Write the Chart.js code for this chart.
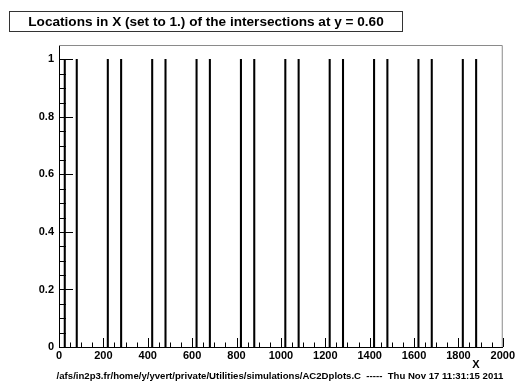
<!DOCTYPE html>
<html>
<head>
<meta charset="utf-8">
<script src="https://cdn.jsdelivr.net/npm/chart.js@4"></script>
<style>
  html, body { margin: 0; padding: 0; background: #fff; }
  #wrap { width: 517px; height: 383px; }
</style>
</head>
<body>
<div id="wrap"><canvas id="intersectChart" width="517" height="383"></canvas></div>
<script>
// intersection locations along X, histogram content (set to 1.)
const positions = [26, 80, 220, 280, 420, 480, 620, 680, 820, 880,
                   1020, 1080, 1220, 1280, 1420, 1480, 1620, 1680, 1820, 1880];
const counts = [1, 1, 1, 1, 1, 1, 1, 1, 1, 1,
                1, 1, 1, 1, 1, 1, 1, 1, 1, 1];
const xTicks = [0, 200, 400, 600, 800, 1000, 1200, 1400, 1600, 1800, 2000];
const yTicks = [0, 0.2, 0.4, 0.6, 0.8, 1];

const titleText = "Locations in X (set to 1.) of the intersections at y = 0.60";
const xTitle = "X";
const footerText = "/afs/in2p3.fr/home/y/yvert/private/Utilities/simulations/AC2Dplots.C  -----  Thu Nov 17 11:31:15 2011";

const FONT = "'Liberation Sans', Arial, Helvetica, sans-serif";

// ROOT style decorations: inner ticks, frame, title box, footer
const rootStyle = {
  id: "rootStyle",
  afterDraw(chart) {
    const ctx = chart.ctx;
    const a = chart.chartArea;
    const xs = chart.scales.x;
    const ys = chart.scales.y;
    ctx.save();

    // frame top / right
    ctx.strokeStyle = "#8a8a8a";
    ctx.lineWidth = 1;
    ctx.beginPath();
    ctx.moveTo(a.left, a.top + 0.5);
    ctx.lineTo(a.right - 0.5, a.top + 0.5);
    ctx.lineTo(a.right - 0.5, a.bottom);
    ctx.stroke();

    // x ticks (major every 200, minor every 50)
    ctx.strokeStyle = "#000";
    ctx.beginPath();
    for (let v = 0; v <= 2000; v += 50) {
      const px = Math.round(xs.getPixelForValue(v)) + 0.5;
      const len = v % 200 === 0 ? 9 : 4.5;
      ctx.moveTo(px, a.bottom);
      ctx.lineTo(px, a.bottom - len);
    }
    // y ticks (major every 0.2, minor every 0.05)
    for (let i = 0; i <= 20; i++) {
      const v = i * 0.05;
      const py = Math.round(ys.getPixelForValue(v)) + 0.5;
      const len = i % 4 === 0 ? 14 : 7;
      ctx.moveTo(a.left, py);
      ctx.lineTo(a.left + len, py);
    }
    ctx.stroke();

    // title box
    ctx.fillStyle = "#fff";
    ctx.fillRect(9.5, 11.5, 393, 20);
    ctx.strokeStyle = "#333";
    ctx.strokeRect(9.5, 11.5, 393, 20);
    ctx.fillStyle = "#000";
    ctx.font = "bold 13.6px " + FONT;
    ctx.textAlign = "center";
    ctx.textBaseline = "middle";
    ctx.fillText(titleText, 206, 22);

    // x axis title
    ctx.font = "bold 11px " + FONT;
    ctx.textAlign = "center";
    ctx.fillText(xTitle, 476, 365);

    // footer
    ctx.font = "bold 9.6px " + FONT;
    ctx.fillText(footerText, 280, 376);
    ctx.restore();
  },
};

const el = document.getElementById("intersectChart");
new Chart(el, {
  type: "bar",
  data: {
    datasets: [
      {
        label: "intersections",
        data: positions.map((x, i) => ({ x: x, y: counts[i] })),
        backgroundColor: "#000",
        borderWidth: 0,
        barThickness: 1.4,
      },
    ],
  },
  options: {
    responsive: false,
    animation: false,
    devicePixelRatio: 1,
    layout: { padding: { left: 0, right: 10, top: 45, bottom: 0 } },
    plugins: {
      legend: { display: false },
      tooltip: { enabled: false },
      title: { display: false },
    },
    scales: {
      x: {
        type: "linear",
        min: 0,
        max: 2000,
        offset: false,
        afterFit: (s) => { s.height = 36; },
        afterBuildTicks: (s) => { s.ticks = xTicks.map((v) => ({ value: v })); },
        grid: { display: false, drawTicks: false },
        border: { display: true, color: "#000", width: 1 },
        ticks: {
          padding: 2,
          maxRotation: 0,
          autoSkip: false,
          color: "#000",
          font: { family: FONT, size: 11, weight: "bold" },
          callback: (v) => String(v),
        },
      },
      y: {
        type: "linear",
        min: 0,
        max: 1.05,
        afterFit: (s) => { s.width = 59; },
        afterBuildTicks: (s) => { s.ticks = yTicks.map((v) => ({ value: v })); },
        grid: { display: false, drawTicks: false },
        border: { display: true, color: "#000", width: 1 },
        ticks: {
          padding: 5,
          autoSkip: false,
          color: "#000",
          font: { family: FONT, size: 11, weight: "bold" },
          callback: (v) => String(v),
        },
      },
    },
  },
  plugins: [rootStyle],
});
</script>
</body>
</html>
